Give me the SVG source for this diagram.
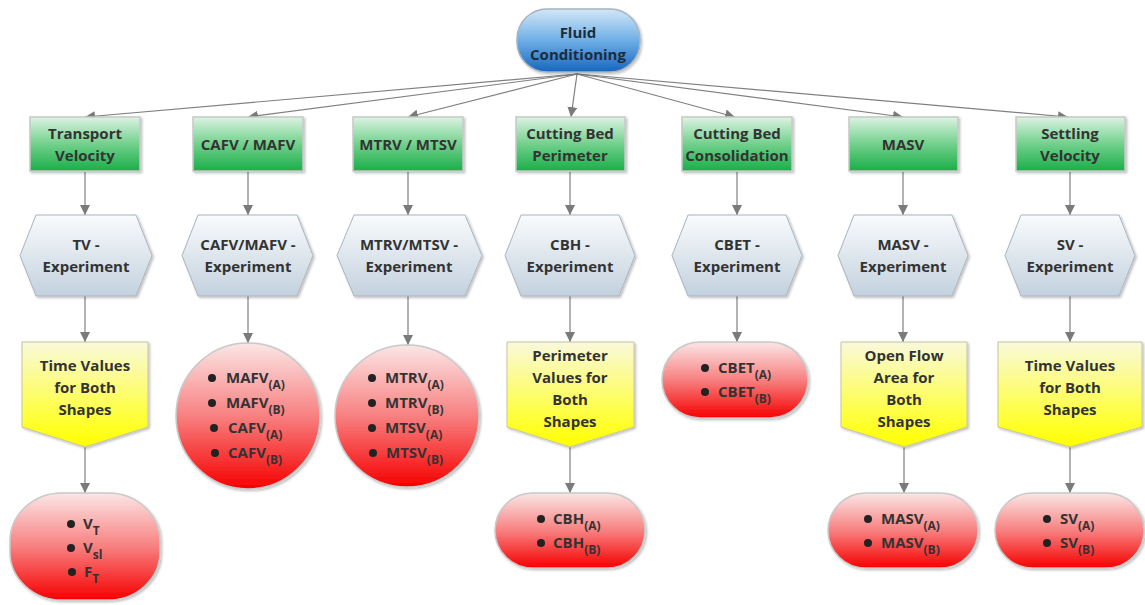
<svg xmlns="http://www.w3.org/2000/svg" width="1145" height="605" viewBox="0 0 1145 605">
<defs>
<style>
text{font-family:"Open Sans","Noto Sans","Liberation Sans",sans-serif;font-weight:bold;font-size:15px;fill:#333333;text-anchor:middle}
.l{text-anchor:start}
.sub{font-size:12px}
.top{fill:#1c2c3c}
.conn line,.conn path{stroke:#808080;stroke-width:1.2;fill:none;marker-end:url(#arr)}
.green{fill:url(#gGreen);stroke:#c8c8c8;stroke-width:1.5;filter:url(#sh)}
.hex{fill:url(#gHex);stroke:#a9b4bf;stroke-width:1;filter:url(#sh)}
.yel{fill:url(#gYel);stroke:#c4c4a0;stroke-width:1;filter:url(#sh)}
.red{fill:url(#gRed);stroke:#c9c9c9;stroke-width:1.5;filter:url(#sh)}
.dot{fill:#222222}
</style>
<linearGradient id="gGreen" x1="0" y1="0" x2="0" y2="1"><stop offset="0" stop-color="#dcf3e2"/><stop offset="0.5" stop-color="#72d08c"/><stop offset="1" stop-color="#1aae48"/></linearGradient>
<linearGradient id="gHex" x1="0" y1="0" x2="0" y2="1"><stop offset="0" stop-color="#f9fbfc"/><stop offset="1" stop-color="#c3d1de"/></linearGradient>
<linearGradient id="gYel" x1="0" y1="0" x2="0" y2="1"><stop offset="0" stop-color="#f9f9dc"/><stop offset="0.75" stop-color="#ffff33"/><stop offset="1" stop-color="#ffff00"/></linearGradient>
<linearGradient id="gRed" x1="0" y1="0" x2="0" y2="1"><stop offset="0" stop-color="#fbe6e6"/><stop offset="0.5" stop-color="#f88080"/><stop offset="1" stop-color="#f60000"/></linearGradient>
<linearGradient id="gBlue" x1="0" y1="0" x2="0" y2="1"><stop offset="0" stop-color="#d2e7f8"/><stop offset="0.5" stop-color="#6eaee6"/><stop offset="1" stop-color="#1766bf"/></linearGradient>
<filter id="sh" x="-10%" y="-10%" width="125%" height="125%"><feDropShadow dx="1.5" dy="1.5" stdDeviation="1.2" flood-color="#000" flood-opacity="0.25"/></filter>
<marker id="arr" markerWidth="11" markerHeight="10" refX="10" refY="5" orient="auto" markerUnits="userSpaceOnUse"><path d="M0,0 L10,5 L0,10 Z" fill="#7a7a7a"/></marker>
</defs>

<g id="connectors" class="conn">
<line x1="577" y1="74" x2="85" y2="117"/>
<line x1="577" y1="74" x2="248" y2="117"/>
<line x1="577" y1="74" x2="408" y2="117"/>
<line x1="577" y1="74" x2="571" y2="117"/>
<line x1="577" y1="74" x2="735" y2="117"/>
<line x1="577" y1="74" x2="903" y2="117"/>
<line x1="577" y1="74" x2="1068" y2="117"/>
<line x1="85" y1="172" x2="85" y2="215"/>
<line x1="248" y1="172" x2="248" y2="215"/>
<line x1="408" y1="172" x2="408" y2="215"/>
<line x1="570" y1="172" x2="570" y2="215"/>
<line x1="737" y1="172" x2="737" y2="215"/>
<line x1="903" y1="172" x2="903" y2="215"/>
<line x1="1070" y1="172" x2="1070" y2="215"/>
<line x1="85" y1="296" x2="85" y2="342"/>
<line x1="248" y1="296" x2="248" y2="343"/>
<line x1="408" y1="296" x2="408" y2="345"/>
<line x1="570" y1="296" x2="570" y2="342"/>
<line x1="737" y1="296" x2="737" y2="342"/>
<line x1="903" y1="296" x2="903" y2="342"/>
<line x1="1070" y1="296" x2="1070" y2="342"/>
<line x1="85" y1="447" x2="85" y2="493"/>
<line x1="570" y1="447" x2="570" y2="493"/>
<line x1="904" y1="447" x2="904" y2="493"/>
<line x1="1070" y1="447" x2="1070" y2="493"/>
</g>

<g id="fluid-conditioning">
<rect x="517" y="9" width="123" height="63" rx="30" ry="30" fill="url(#gBlue)" stroke="#a8b4c0" stroke-width="1.5" filter="url(#sh)"/>
<text class="top" x="578" y="38">Fluid</text>
<text class="top" x="578" y="60">Conditioning</text>
</g>

<g id="transport-velocity"><rect class="green" x="30" y="117" width="110" height="54"/><text x="85" y="139">Transport</text><text x="85" y="161">Velocity</text></g>
<g id="cafv-mafv"><rect class="green" x="193" y="117" width="110" height="54"/><text x="248" y="150">CAFV / MAFV</text></g>
<g id="mtrv-mtsv"><rect class="green" x="353" y="117" width="110" height="54"/><text x="408" y="150">MTRV / MTSV</text></g>
<g id="cutting-bed-perimeter"><rect class="green" x="516" y="117" width="109" height="54"/><text x="570" y="139">Cutting Bed</text><text x="570" y="161">Perimeter</text></g>
<g id="cutting-bed-consolidation"><rect class="green" x="682" y="117" width="110" height="54"/><text x="737" y="139">Cutting Bed</text><text x="737" y="161">Consolidation</text></g>
<g id="masv"><rect class="green" x="849" y="117" width="109" height="54"/><text x="903" y="150">MASV</text></g>
<g id="settling-velocity"><rect class="green" x="1016" y="117" width="109" height="54"/><text x="1070" y="139">Settling</text><text x="1070" y="161">Velocity</text></g>

<g id="tv-experiment"><polygon class="hex" points="36,215 136,215 152,255.5 136,296 36,296 20,255.5"/><text x="86" y="250">TV -</text><text x="86" y="272">Experiment</text></g>
<g id="cafv-experiment"><polygon class="hex" points="198,215 297,215 313,255.5 297,296 198,296 182,255.5"/><text x="248" y="250">CAFV/MAFV -</text><text x="248" y="272">Experiment</text></g>
<g id="mtrv-experiment"><polygon class="hex" points="354,215 465,215 482,255.5 465,296 354,296 337,255.5"/><text x="409" y="250">MTRV/MTSV -</text><text x="409" y="272">Experiment</text></g>
<g id="cbh-experiment"><polygon class="hex" points="521,215 619,215 635,255.5 619,296 521,296 505,255.5"/><text x="570" y="250">CBH -</text><text x="570" y="272">Experiment</text></g>
<g id="cbet-experiment"><polygon class="hex" points="688,215 786,215 802,255.5 786,296 688,296 672,255.5"/><text x="737" y="250">CBET -</text><text x="737" y="272">Experiment</text></g>
<g id="masv-experiment"><polygon class="hex" points="854,215 952,215 968,255.5 952,296 854,296 838,255.5"/><text x="903" y="250">MASV -</text><text x="903" y="272">Experiment</text></g>
<g id="sv-experiment"><polygon class="hex" points="1021,215 1119,215 1135,255.5 1119,296 1021,296 1005,255.5"/><text x="1070" y="250">SV -</text><text x="1070" y="272">Experiment</text></g>

<g id="tv-values"><polygon class="yel" points="22,342 148,342 148,427 85,447 22,427"/><text x="85" y="371">Time Values</text><text x="85" y="393">for Both</text><text x="85" y="415">Shapes</text></g>
<g id="perimeter-values"><polygon class="yel" points="507,342 634,342 634,427 570,447 507,427"/><text x="570" y="361">Perimeter</text><text x="570" y="383">Values for</text><text x="570" y="405">Both</text><text x="570" y="427">Shapes</text></g>
<g id="open-flow-area"><polygon class="yel" points="841,342 967,342 967,427 904,447 841,427"/><text x="904" y="361">Open Flow</text><text x="904" y="383">Area for</text><text x="904" y="405">Both</text><text x="904" y="427">Shapes</text></g>
<g id="sv-values"><polygon class="yel" points="998,342 1142,342 1142,427 1070,447 998,427"/><text x="1070" y="371">Time Values</text><text x="1070" y="393">for Both</text><text x="1070" y="415">Shapes</text></g>

<g id="tv-results"><rect class="red" x="10" y="493" width="150" height="107" rx="52" ry="48"/>
<circle class="dot" cx="71" cy="524" r="4"/><circle class="dot" cx="71" cy="548" r="4"/><circle class="dot" cx="72" cy="572" r="4"/>
<text class="l" x="83" y="529">V<tspan class="sub" dy="6">T</tspan></text>
<text class="l" x="83" y="553">V<tspan class="sub" dy="6">sl</tspan></text>
<text class="l" x="84" y="577">F<tspan class="sub" dy="6">T</tspan></text></g>

<g id="cafv-results"><ellipse class="red" cx="248" cy="416" rx="72" ry="73"/>
<circle class="dot" cx="212" cy="378" r="4"/><circle class="dot" cx="212" cy="403" r="4"/><circle class="dot" cx="214" cy="428" r="4"/><circle class="dot" cx="215" cy="453" r="4"/>
<text class="l" x="226" y="383">MAFV<tspan class="sub" dy="6">(A)</tspan></text>
<text class="l" x="226" y="408">MAFV<tspan class="sub" dy="6">(B)</tspan></text>
<text class="l" x="228" y="433">CAFV<tspan class="sub" dy="6">(A)</tspan></text>
<text class="l" x="228" y="458">CAFV<tspan class="sub" dy="6">(B)</tspan></text></g>

<g id="mtrv-results"><ellipse class="red" cx="407" cy="416" rx="72" ry="71"/>
<circle class="dot" cx="372" cy="378" r="4"/><circle class="dot" cx="372" cy="403" r="4"/><circle class="dot" cx="372" cy="428" r="4"/><circle class="dot" cx="373" cy="453" r="4"/>
<text class="l" x="385" y="383">MTRV<tspan class="sub" dy="6">(A)</tspan></text>
<text class="l" x="385" y="408">MTRV<tspan class="sub" dy="6">(B)</tspan></text>
<text class="l" x="385" y="433">MTSV<tspan class="sub" dy="6">(A)</tspan></text>
<text class="l" x="386" y="458">MTSV<tspan class="sub" dy="6">(B)</tspan></text></g>

<g id="cbh-results"><rect class="red" x="495" y="493" width="150" height="75" rx="37.5"/>
<circle class="dot" cx="541" cy="519" r="4"/><circle class="dot" cx="541" cy="543" r="4"/>
<text class="l" x="553" y="524">CBH<tspan class="sub" dy="6">(A)</tspan></text>
<text class="l" x="553" y="548">CBH<tspan class="sub" dy="6">(B)</tspan></text></g>

<g id="cbet-results"><rect class="red" x="662" y="342" width="146" height="76" rx="38"/>
<circle class="dot" cx="705" cy="368" r="4"/><circle class="dot" cx="705" cy="392" r="4"/>
<text class="l" x="718" y="373">CBET<tspan class="sub" dy="6">(A)</tspan></text>
<text class="l" x="718" y="397">CBET<tspan class="sub" dy="6">(B)</tspan></text></g>

<g id="masv-results"><rect class="red" x="828" y="493" width="150" height="75" rx="37.5"/>
<circle class="dot" cx="868" cy="519" r="4"/><circle class="dot" cx="868" cy="543" r="4"/>
<text class="l" x="881" y="524">MASV<tspan class="sub" dy="6">(A)</tspan></text>
<text class="l" x="881" y="548">MASV<tspan class="sub" dy="6">(B)</tspan></text></g>

<g id="sv-results"><rect class="red" x="995" y="493" width="149" height="75" rx="37.5"/>
<circle class="dot" cx="1047" cy="519" r="4"/><circle class="dot" cx="1047" cy="543" r="4"/>
<text class="l" x="1060" y="524">SV<tspan class="sub" dy="6">(A)</tspan></text>
<text class="l" x="1060" y="548">SV<tspan class="sub" dy="6">(B)</tspan></text></g>
</svg>
